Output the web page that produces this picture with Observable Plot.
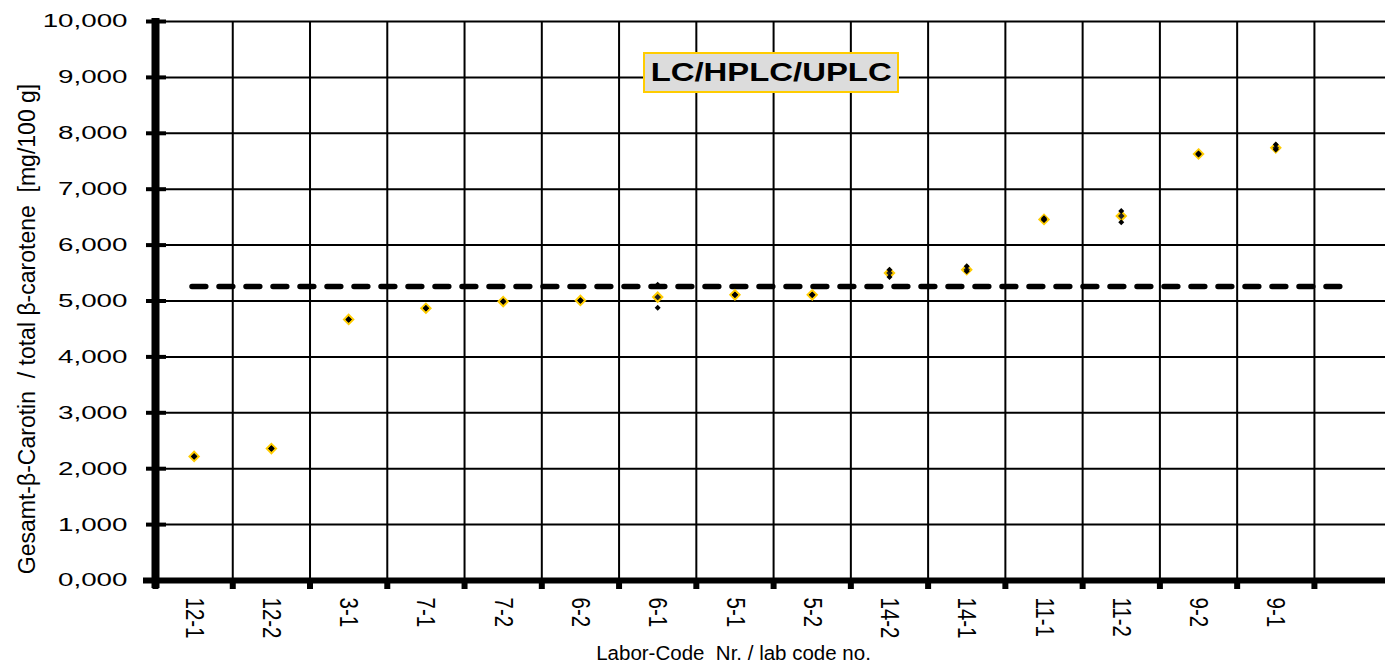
<!DOCTYPE html>
<html>
<head>
<meta charset="utf-8">
<script src="https://cdn.jsdelivr.net/npm/d3@7"></script>
<script src="https://cdn.jsdelivr.net/npm/@observablehq/plot@0.6"></script>
<style>
  html, body { margin: 0; padding: 0; background: #fff; }
  #wrap { position: relative; width: 1385px; height: 666px; overflow: hidden; }
  svg text { white-space: pre; }
  #box {
    position: absolute; left: 643px; top: 52px; width: 252px; height: 37px;
    background: #dcdcdc; border: 2px solid #ffcc00;
    font-family: "Liberation Sans", Arial, sans-serif; font-weight: bold; font-size: 26.5px;
    display: flex; align-items: center; justify-content: center; color: #000;
  }
  #box span { display: inline-block; transform: scaleX(1.24); }
</style>
</head>
<body>
<div id="wrap"><div id="box"><span>LC/HPLC/UPLC</span></div></div>
<script>
// ---- data ----
const labs  = ["12-1","12-2","3-1","7-1","7-2","6-2","6-1","5-1","5-2","14-2","14-1","11-1","11-2","9-2","9-1"];
const means = [2.22, 2.36, 4.67, 4.87, 4.99, 5.01, 5.07, 5.11, 5.11, 5.50, 5.56, 6.46, 6.52, 7.63, 7.74];
const rep1  = [2.22, 2.36, 4.67, 4.87, 4.99, 5.01, 5.29, 5.11, 5.11, 5.56, 5.62, 6.48, 6.61, 7.64, 7.80];
const rep2  = [2.22, 2.36, 4.67, 4.87, 4.99, 5.01, 4.88, 5.11, 5.11, 5.43, 5.53, 6.45, 6.41, 7.62, 7.71];
const refValue = 5.26;
const yTicks = [0, 1, 2, 3, 4, 5, 6, 7, 8, 9, 10];
const yTitle = "Gesamt-\u03b2-Carotin  / total \u03b2-carotene  [mg/100 g]";
const xTitle = "Labor-Code  Nr. / lab code no.";

// ---- derived tables ----
const meanRows = labs.map((lab, i) => ({i, lab, v: means[i]}));
const repRows = labs.flatMap((lab, i) => [{i, lab, v: rep1[i]}, {i, lab, v: rep2[i]}]);
const boundaries = d3.range(0, labs.length + 1);
const centers = labs.map((d, i) => i + 0.5);

const chart = Plot.plot({
  width: 1385,
  height: 666,
  marginLeft: 155,
  marginRight: 0,
  marginTop: 21,
  marginBottom: 86,
  style: {fontFamily: "'Liberation Sans', Arial, sans-serif", background: "#fff", color: "#000"},
  x: {type: "linear", domain: [0, 15.92]},
  y: {domain: [0, 10]},
  marks: [
    // grid
    Plot.gridY(yTicks.slice(1), {stroke: "#000", strokeOpacity: 1, strokeWidth: 2}),
    Plot.gridX(boundaries.slice(1), {stroke: "#000", strokeOpacity: 1, strokeWidth: 2}),
    // reference line
    Plot.ruleY([refValue], {stroke: "#000", strokeWidth: 5.5, strokeDasharray: "13.8,13.2", strokeLinecap: "round", insetLeft: 37, insetRight: 43}),
    // x axis line and boundary ticks
    Plot.ruleY([0], {stroke: "#000", strokeWidth: 6, insetLeft: -12}),
    Plot.axisX({ticks: boundaries, tickSize: 9, strokeWidth: 6, tickFormat: () => "", stroke: "#000"}),
    Plot.axisX({ticks: centers, tickFormat: d => labs[Math.floor(d)], tickSize: 0, tickPadding: 17,
                tickRotate: 90, fontSize: 20.5, fill: "#000"}),
    // y axis
    Plot.ruleX([0], {stroke: "#000", strokeWidth: 8, insetTop: -3, insetBottom: -8}),
    Plot.axisY({ticks: yTicks, tickSize: 20, dx: 11, tickPadding: 19, strokeWidth: 4, label: null,
                tickFormat: d => d.toFixed(3).replace(".", ","), fontSize: 18.5, fill: "#000"}),
    // titles
    Plot.text([yTitle], {frameAnchor: "left", textAnchor: "middle", lineAnchor: "middle", dx: -128, dy: 28, rotate: -90,
                         fontSize: 23, fill: "#000", ariaLabel: "y-title"}),
    Plot.text([xTitle], {frameAnchor: "bottom", textAnchor: "middle", lineAnchor: "middle", dx: -37, dy: 73,
                         fontSize: 20.5, fill: "#000", ariaLabel: "x-title"}),
    // data
    Plot.dot(meanRows, {x: d => d.i + 0.5, y: "v", symbol: "diamond2", r: 4.2, fill: "#222", stroke: "#ffcc00", strokeWidth: 2}),
    Plot.dot(repRows, {x: d => d.i + 0.5, y: "v", symbol: "diamond2", r: 2.7, fill: "#000", stroke: "none"})
  ]
});

document.getElementById("wrap").prepend(chart);
chart.style.position = "absolute";
chart.style.left = "0";
chart.style.top = "0";

// stretch text horizontally (screen x) about an anchor point, like the reference rendering
function stretchText(sel, s, anchor) {
  const svgRect = chart.getBoundingClientRect();
  chart.querySelectorAll(sel).forEach(t => {
    const r = t.getBoundingClientRect();
    if (!r.width) return;
    const px = (anchor === "end" ? r.right : (r.left + r.right) / 2) - svgRect.left;
    const py = (r.top + r.bottom) / 2 - svgRect.top;
    const parent = t.parentNode;
    const pt = chart.createSVGPoint(); pt.x = px; pt.y = py;
    const lp = pt.matrixTransform(parent.getCTM().inverse());
    const g = document.createElementNS("http://www.w3.org/2000/svg", "g");
    g.setAttribute("transform", `translate(${lp.x},${lp.y}) scale(${s},1) translate(${-lp.x},${-lp.y})`);
    parent.insertBefore(g, t);
    g.appendChild(t);
  });
}
stretchText('g[aria-label="y-axis tick label"] text', 1.5, "end");
stretchText('g[aria-label="x-axis tick label"] text', 1.25, "middle");
stretchText('g[aria-label="y-title"] text', 1.15, "middle");
stretchText('g[aria-label="x-title"] text', 1.05, "middle");
</script>
</body>
</html>
